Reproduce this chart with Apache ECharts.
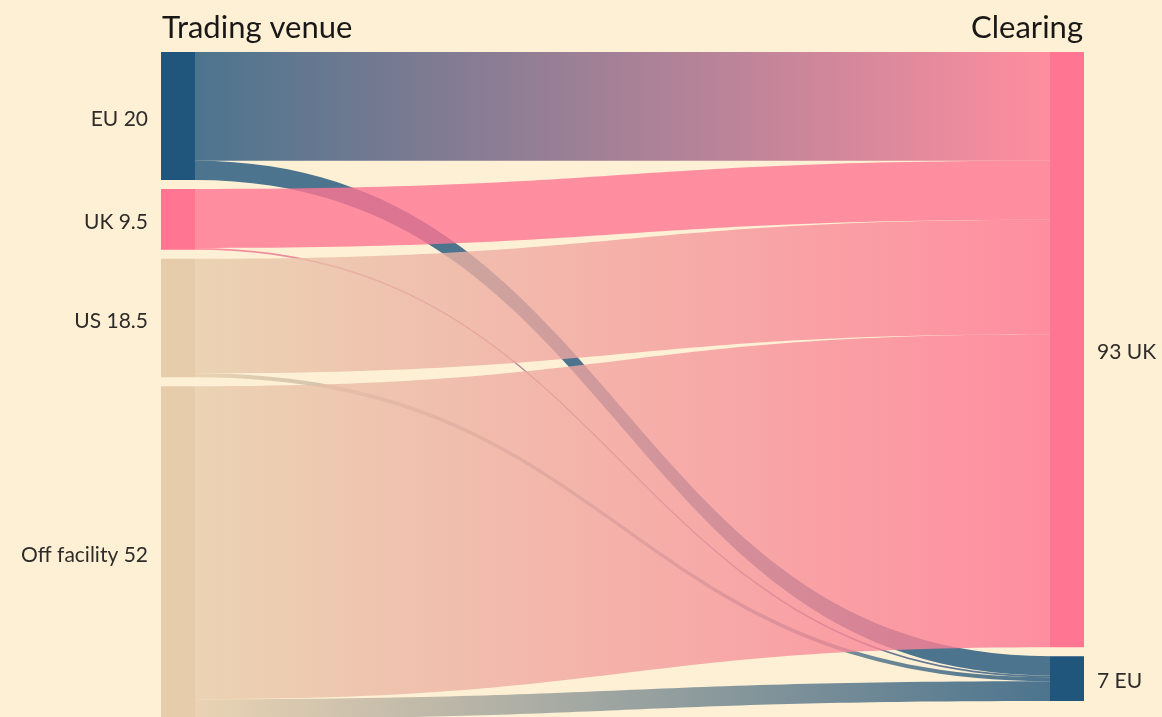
<!DOCTYPE html>
<html>
<head>
<meta charset="utf-8">
<script src="https://cdn.jsdelivr.net/npm/echarts@6/dist/echarts.min.js"></script>
<style>
  html, body { margin: 0; padding: 0; background: #fdf0d5; }
  #chart { width: 1162px; height: 717px; }
</style>
</head>
<body>
<div id="chart"></div>
<script>
// Left column: trading venue
const venueNames = ['EU', 'UK', 'US', 'Off facility'];
const venueValues = [20, 9.5, 18.5, 52];
// Right column: clearing
const clearingNames = ['UK', 'EU'];
const clearingValues = [93, 7];
// Flows: rows = venues, columns = clearing [UK, EU]
const flowEU = [17, 3];
const flowUK = [9.2, 0.3];
const flowUS = [17.9, 0.6];
const flowOff = [48.9, 3.1];

const venueColors = ['#20557c', '#ff7592', '#e6ccab', '#e6ccab'];
const clearingColors = ['#ff7592', '#20557c'];

const flows = [flowEU, flowUK, flowUS, flowOff];

const nodes = [];
venueNames.forEach((n, i) => {
  nodes.push({
    name: 'v_' + n,
    value: venueValues[i],
    itemStyle: { color: venueColors[i] },
    label: { position: 'left', formatter: n + ' ' + venueValues[i] }
  });
});
clearingNames.forEach((n, i) => {
  nodes.push({
    name: 'c_' + n,
    value: clearingValues[i],
    itemStyle: { color: clearingColors[i] },
    label: { position: 'right', formatter: clearingValues[i] + ' ' + n }
  });
});
const links = [];
venueNames.forEach((v, i) => {
  clearingNames.forEach((c, j) => {
    links.push({ source: 'v_' + v, target: 'c_' + c, value: flows[i][j] });
  });
});

const chart = echarts.init(document.getElementById('chart'), null, { renderer: 'canvas' });
chart.setOption({
  backgroundColor: '#fdf0d5',
  animation: false,
  title: [
    { text: 'Trading venue', left: 157, top: 7,
      textStyle: { fontFamily: 'Lato', fontSize: 31, fontWeight: 'normal', color: '#1a1817' } },
    { text: 'Clearing', right: 74, top: 7,
      textStyle: { fontFamily: 'Lato', fontSize: 31, fontWeight: 'normal', color: '#1a1817' } }
  ],
  series: [{
    type: 'sankey',
    left: 161,
    right: 78,
    top: 52,
    height: 667,
    nodeWidth: 34,
    nodeGap: 9,
    layoutIterations: 0,
    draggable: false,
    emphasis: { disabled: true },
    data: nodes,
    links: links,
    itemStyle: { borderWidth: 0 },
    label: {
      fontFamily: 'Lato',
      fontSize: 21,
      fontWeight: 'normal',
      color: '#2e2b29',
      distance: 13,
      offset: [0, 3]
    },
    lineStyle: {
      color: 'gradient',
      opacity: 0.8,
      curveness: 0.5
    }
  }]
});
</script>
</body>
</html>
